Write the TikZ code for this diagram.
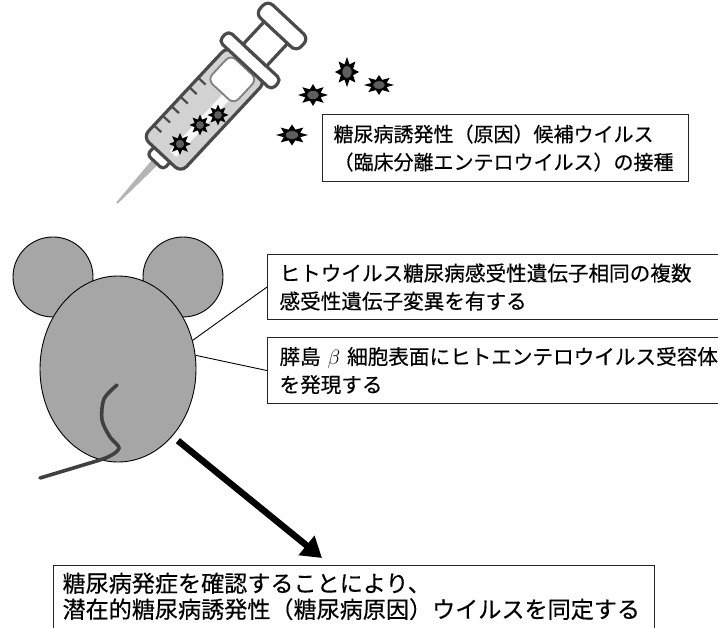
\documentclass[tikz,border=0pt]{standalone}
\usepackage{fontspec}
\setmainfont{Noto Sans CJK JP}[FakeBold=0.35]
\usetikzlibrary{shapes.geometric,arrows.meta}

\definecolor{mousegray}{HTML}{A6A6A6}
\definecolor{tailgray}{HTML}{404040}
\definecolor{virusgray}{HTML}{5E5E5E}
\definecolor{syrline}{HTML}{4A4A4A}
\definecolor{barrelgray}{HTML}{D2D2D2}
\definecolor{needlegray}{HTML}{B4B4B4}

% spiky virus particle: x, y, xscale, yscale
\newcommand{\virus}[4]{%
  \begin{scope}[shift={(#1,#2)},xscale=#3,yscale=#4]
    \fill[black] (0:1) \foreach \a in {1,...,15}{ -- ({\a*22.5}:{0.55+0.45*mod(\a+1,2)}) } -- cycle;
    \filldraw[fill=virusgray,draw=black,line width=0.6pt] (0,0) circle (0.42);
  \end{scope}}

\begin{document}
\begin{tikzpicture}[x=1pt,y=-1pt,
  txtbox/.style={draw=black!85,line width=1.1pt,anchor=north west,align=left,
    font=\fontsize{20}{28}\selectfont,inner ysep=0pt},
  ear/.style={circle,draw,line width=0.9pt,fill=mousegray,minimum size=80,inner sep=0},
  link/.style={line width=0.9pt},
  syr/.style={draw=syrline,line width=3.2pt,line join=round}]
\useasboundingbox (0,0) rectangle (718,628);
\clip (0,0) rectangle (718,628);

% syringe
\begin{scope}[shift={(117,203)},rotate=47]
\fill[needlegray] (0,-1) -- (60,-4) -- (60,4) -- (0,1) -- cycle;
\draw[syr,fill=white,rounded corners=4] (56,-11) rectangle (72,11);
\draw[syr,fill=barrelgray,rounded corners=8] (66,-26) rectangle (190,26);
\fill[white,opacity=0.85] (74,3) rectangle (154,12);
\draw[draw=syrline!70,line width=1.8pt,fill=white,rounded corners=7] (152,-18) rectangle (186,18);
\foreach \u in {82,95,...,147} \draw[syr,line width=2.2pt] (\u,-26) -- (\u,-16);
\draw[syr,fill=white,rounded corners=5] (188,-36) rectangle (202,36);
\draw[syr,fill=white] (202,-16) rectangle (235,16);
\draw[syr,fill=white,rounded corners=7] (233,-28) rectangle (251,28);
\end{scope}

% virus particles
\virus{180}{144}{11}{11}
\virus{200}{125}{10.5}{10.5}
\virus{218}{115}{10.5}{10.5}
\virus{292}{135}{16}{10.5}
\virus{313}{95}{15}{11}
\virus{347}{72}{12}{15}
\virus{379}{85}{15}{10}

\node[txtbox,text width=344,minimum height=67,inner xsep=11] (inoc) at (322,114)
  {糖尿病誘発性（原因）候補ウイルス\\（臨床分離エンテロウイルス）の接種};

% mouse
\node[ear] (earL) at (53,277) {};
\node[ear] (earR) at (183,277) {};
\node[ellipse,draw,line width=0.9pt,fill=mousegray,minimum width=156,minimum height=186,inner sep=0] (body) at (118,369) {};
\draw[tailgray,line width=3.6pt,line cap=round] plot[smooth] coordinates
  {(117,385) (104,399) (102,420) (110,437) (119,448) (108,457) (80,466) (40,478)};

\node[txtbox,text width=439,minimum height=65,inner xsep=12,font=\fontsize{20.6}{28}\selectfont] (gene) at (267,254)
  {ヒトウイルス糖尿病感受性遺伝子相同の複数\\感受性遺伝子変異を有する};
\node[txtbox,text width=439,minimum height=66,inner xsep=12,font=\fontsize{20.6}{28}\selectfont] (recep) at (267,337)
  {膵島 $\beta$ 細胞表面にヒトエンテロウイルス受容体\\を発現する};
\draw[link] (body.21) -- (gene.west);
\draw[link] (body.10) -- (recep.west);

\node[txtbox,inner xsep=9,inner ysep=7,font=\fontsize{23.1}{26}\selectfont] (result) at (53,565)
  {\parbox[c][80pt][t]{583pt}{糖尿病発症を確認することにより、\\潜在的糖尿病誘発性（糖尿病原因）ウイルスを同定する}};
\coordinate (tip) at (322,558);
\draw[line width=6.5pt,-{Triangle[length=20pt,width=24pt]},shorten <=7pt] (body.-51) -- (tip);
\end{tikzpicture}
\end{document}
